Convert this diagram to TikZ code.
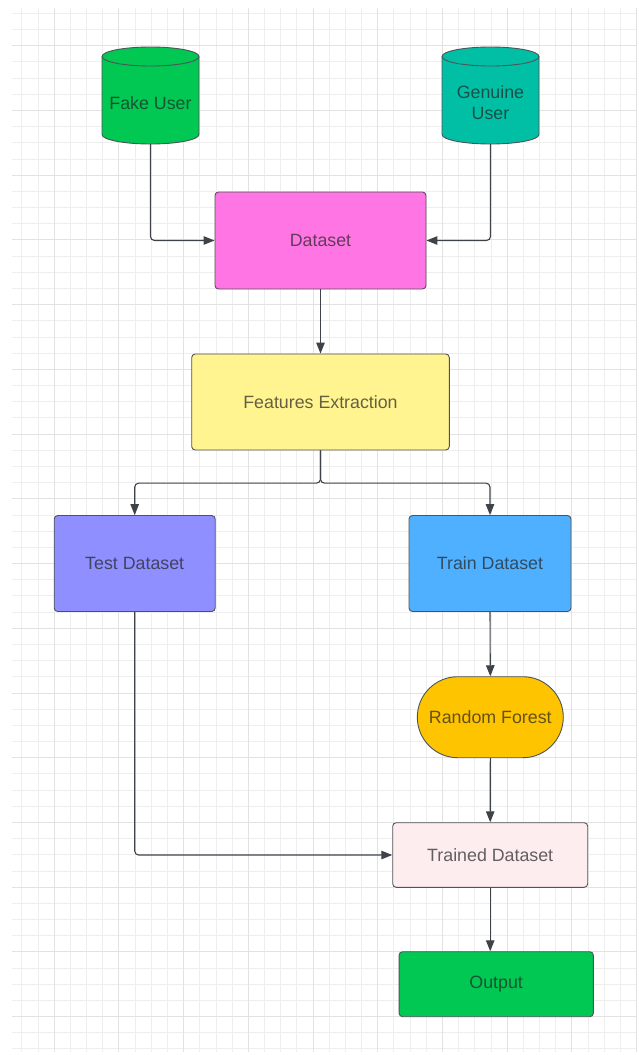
\documentclass[tikz,border=0pt]{standalone}
\usepackage{fontspec}
\setmainfont{Liberation Sans}
\usetikzlibrary{arrows.meta,shapes.misc,calc}
\definecolor{minorgrid}{HTML}{EEEEEE}
\definecolor{majorgrid}{HTML}{E2E2E2}
\definecolor{bordercol}{HTML}{4F5358}
\definecolor{conncol}{HTML}{3E4349}
\definecolor{txtcol}{HTML}{222222}
\definecolor{fakecol}{HTML}{00C853}
\definecolor{gencol}{HTML}{00BFA5}
\definecolor{dscol}{HTML}{FF75E3}
\definecolor{fecol}{HTML}{FFF490}
\definecolor{testcol}{HTML}{8F8FFF}
\definecolor{traincol}{HTML}{4FB0FF}
\definecolor{rfcol}{HTML}{FFC400}
\definecolor{trainedcol}{HTML}{FDEDEE}
\definecolor{outcol}{HTML}{00C853}
\newcommand\mycyl[2]{%
  \filldraw[fill=#2, draw=bordercol, line width=0.9pt]
    ({#1-48.5},56.5) -- ({#1-48.5},134.5)
    arc[start angle=180,end angle=360,x radius=48.5pt,y radius=9.5pt]
    -- ({#1+48.5},56.5)
    arc[start angle=0,end angle=180,x radius=48.5pt,y radius=9.5pt] -- cycle;
  \draw[draw=bordercol, line width=0.9pt] ({#1-48.5},56.5)
    arc[start angle=180,end angle=360,x radius=48.5pt,y radius=9.5pt];
}
\begin{document}
\begin{tikzpicture}[x=1pt,y=-1pt,
  lbl/.style={text=txtcol, text opacity=0.7, font=\fontsize{17.8}{21}\selectfont, align=center, inner sep=0pt},
  box/.style={lbl, draw=bordercol, line width=0.9pt, rounded corners=3.5pt},
  conn/.style={draw=conncol, line width=1.1pt, rounded corners=4pt, -{Triangle[length=11pt,width=8.5pt]}}]
\fill[white] (0,0) rectangle (639,1055);
\useasboundingbox (0,0) rectangle (639,1055);
% grid
\foreach \i in {0,...,38}
  \draw[minorgrid, line width=0.7pt] ({21.7+16.18*\i},8) -- ({21.7+16.18*\i},1052);
\foreach \j in {0,...,64}
  \draw[minorgrid, line width=0.7pt] (12,{13.3+16.18*\j}) -- (637,{13.3+16.18*\j});
\foreach \i in {2,6,...,38}
  \draw[majorgrid, line width=0.7pt] ({21.7+16.18*\i},8) -- ({21.7+16.18*\i},1052);
\foreach \j in {2,6,...,62}
  \draw[majorgrid, line width=0.7pt] (12,{13.3+16.18*\j}) -- (637,{13.3+16.18*\j});
% cylinders
\mycyl{150.5}{fakecol}
\mycyl{490.5}{gencol}
\node[lbl, minimum width=97pt, minimum height=82pt] (fake) at (150.5,103) {Fake User};
\node[lbl, minimum width=97pt, minimum height=82pt] (gen) at (490.5,103) {Genuine\\User};
% boxes
\node[box, fill=dscol, minimum width=211pt, minimum height=97pt] (ds) at (320.5,240.5) {Dataset};
\node[box, fill=fecol, minimum width=257.6pt, minimum height=96pt] (fe) at (320.5,402) {Features Extraction};
\node[box, fill=testcol, minimum width=161pt, minimum height=96pt] (test) at (134.7,563.5) {Test Dataset};
\node[box, fill=traincol, minimum width=162pt, minimum height=96pt] (train) at (490,563.5) {Train Dataset};
\node[lbl, rounded rectangle, draw=bordercol, line width=0.9pt, fill=rfcol, minimum width=146pt, minimum height=81pt] (rf) at (490.3,717.2) {Random Forest};
\node[box, fill=trainedcol, minimum width=195pt, minimum height=64.6pt] (trained) at (490.2,855) {Trained Dataset};
\node[box, fill=outcol, minimum width=194.3pt, minimum height=65pt] (out) at (496.2,984.2) {Output};
% connectors
\draw[conn] (fake.south) |- (ds.west);
\draw[conn] (gen.south) |- (ds.east);
\draw[conn] (ds.south) -- (fe.north);
\coordinate (split) at ($(fe.south)+(0,32.7)$);
\draw[conn] (fe.south) -- (split) -| (test.north);
\draw[conn] (fe.south) -- (split) -| (train.north);
\draw[conn] (train.south) -- (rf.north);
\draw[conn] (rf.south) -- (trained.north);
\draw[conn] (test.south) |- (trained.west);
\draw[conn] (trained.south) -- (trained.south |- out.north);
\end{tikzpicture}
\end{document}
